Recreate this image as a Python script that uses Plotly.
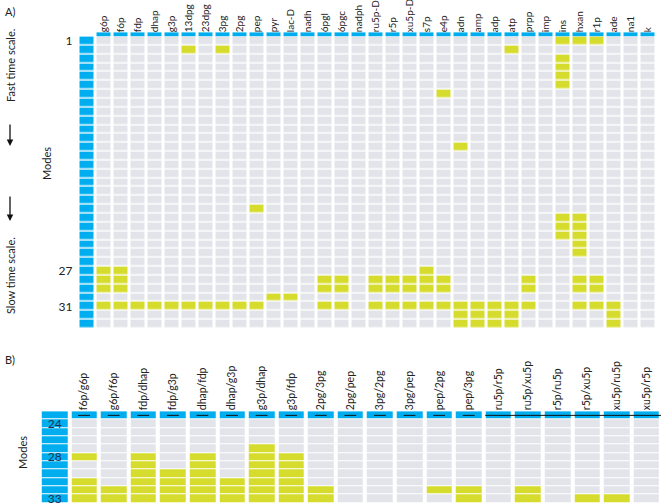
import plotly.graph_objects as go

W, H = 661, 503

# ---------------- data: panel A ----------------
metabolites = ["g6p", "f6p", "fdp", "dhap", "g3p", "13dpg", "23dpg", "3pg", "2pg", "pep",
               "pyr", "lac-D", "nadh", "6pgl", "6pgc", "nadph", "ru5p-D", "r5p", "xu5p-D",
               "s7p", "e4p", "adn", "amp", "adp", "atp", "prpp", "imp", "ins", "hxan",
               "r1p", "ade", "na1", "k"]
modes_a = list(range(1, 34))
mode_ticks_a = [1, 27, 31]

row28 = ["g6p", "f6p", "6pgl", "6pgc", "ru5p-D", "r5p", "xu5p-D", "s7p", "e4p", "prpp", "hxan", "r1p"]
row31 = ["g6p", "f6p", "fdp", "dhap", "g3p", "13dpg", "23dpg", "3pg", "2pg", "pep", "6pgl", "6pgc",
         "ru5p-D", "r5p", "xu5p-D", "s7p", "e4p", "adn", "amp", "adp", "atp", "prpp", "hxan", "r1p", "ade"]
row32 = ["adn", "amp", "adp", "atp", "ade"]
# metabolites participating in each mode (mode 1 .. 33)
active_a = [
    ["ins", "hxan", "r1p"],        # 1
    ["13dpg", "3pg", "atp"],       # 2
    ["ins"], ["ins"], ["ins"], ["ins"],   # 3-6
    ["e4p"],                       # 7
    [], [], [], [], [],            # 8-12
    ["adn"],                       # 13
    [], [], [], [], [], [],        # 14-19
    ["pep"],                       # 20
    ["ins", "hxan"], ["ins", "hxan"], ["ins", "hxan"],  # 21-23
    ["hxan"], ["hxan"],            # 24-25
    [],                            # 26
    ["g6p", "f6p", "s7p"],         # 27
    row28, row28,                  # 28-29
    ["pyr", "lac-D"],              # 30
    row31,                         # 31
    row32, row32,                  # 32-33
]

# ---------------- data: panel B ----------------
ratios = ["f6p/g6p", "g6p/f6p", "fdp/dhap", "fdp/g3p", "dhap/fdp", "dhap/g3p", "g3p/dhap",
          "g3p/fdp", "2pg/3pg", "2pg/pep", "3pg/2pg", "3pg/pep", "pep/2pg", "pep/3pg",
          "ru5p/r5p", "ru5p/xu5p", "r5p/ru5p", "r5p/xu5p", "xu5p/ru5p", "xu5p/r5p"]
modes_b = list(range(24, 34))
mode_ticks_b = [24, 28, 33]
active_b = [
    [28, 31, 32, 33], [32, 33], [28, 29, 30, 31, 32, 33], [30, 31, 32, 33],
    [28, 29, 30, 31, 32, 33], [31, 32, 33], [27, 28, 29, 30, 31, 32, 33],
    [28, 29, 30, 31, 32, 33], [32, 33], [], [], [], [32], [32, 33],
    [], [32, 33], [], [33], [33], [],
]
full_line_b = [False] * 14 + [True] * 6

# ---------------- styling ----------------
GRAY = "#e2e4e9"
YEL = "#d6dc2e"
BLUE = "#00aeef"
TXT = "#222222"
FONT = "Lato"
cscale = [[0, GRAY], [0.33, GRAY], [0.34, YEL], [0.66, YEL], [0.67, BLUE], [1, BLUE]]


def px(x):
    return x / W


def py(y):
    return 1 - y / H


fig = go.Figure()

# ---- panel A matrix (left blue column at x=-1)
xa = list(range(-1, len(metabolites)))
za = []
for m, act in zip(modes_a, active_a):
    za.append([2] + [1 if name in act else 0 for name in metabolites])
fig.add_trace(go.Heatmap(x=xa, y=modes_a, z=za, zmin=0, zmax=2, colorscale=cscale,
                         showscale=False, xgap=3, ygap=1.4, hoverinfo="skip",
                         xaxis="x", yaxis="y"))
# header bar row of panel A (thin)
fig.add_trace(go.Heatmap(x=xa, y=[0.0, 0.45], z=[[None] + [2] * len(metabolites)],
                         zmin=0, zmax=2, colorscale=cscale, showscale=False,
                         xgap=3, ygap=0, hoverinfo="skip", xaxis="x", yaxis="y"))

# ---- panel B matrix
xb = list(range(-1, len(ratios)))
yb = [modes_b[0] - 1] + modes_b
zb, tb = [], []
for m in yb:
    if m == yb[0]:
        zb.append([2] * len(xb))
        tb.append([""] * len(xb))
    else:
        zb.append([2] + [1 if m in act else 0 for act in active_b])
        tb.append([str(m) if m in mode_ticks_b else ""] + [""] * len(ratios))
fig.add_trace(go.Heatmap(x=xb, y=yb, z=zb, text=tb, texttemplate="%{text}",
                         textfont=dict(family=FONT, size=12, color="#1d3350"),
                         zmin=0, zmax=2, colorscale=cscale, showscale=False,
                         xgap=4, ygap=1, hoverinfo="skip", xaxis="x2", yaxis="y2"))

# header lines of panel B
lx, ly = [], []
first_full = full_line_b.index(True)
for i, full in enumerate(full_line_b):
    if not full:
        lx += [i - 0.2, i + 0.2, None]
        ly += [yb[0], yb[0], None]
lx += [first_full - 0.44, len(ratios) - 0.5, None]
ly += [yb[0], yb[0], None]
fig.add_trace(go.Scatter(x=lx, y=ly, mode="lines", line=dict(color="#111111", width=1),
                         hoverinfo="skip", showlegend=False, xaxis="x2", yaxis="y2"))

axis_common = dict(showgrid=False, zeroline=False, showline=False, ticks="", automargin=False)

fig.update_layout(
    width=W, height=H, margin=dict(l=0, r=0, t=0, b=0, autoexpand=False),
    paper_bgcolor="white", plot_bgcolor="white", showlegend=False,
    font=dict(family=FONT, color=TXT),
    xaxis=dict(domain=[px(78.5), px(656.5)], range=[-1.5, len(metabolites) - 0.5],
               side="top", tickmode="array", tickvals=list(range(len(metabolites))),
               ticktext=metabolites, tickangle=-90, tickfont=dict(size=10, color=TXT),
               ticklabelstandoff=-1, anchor="y", **axis_common),
    yaxis=dict(domain=[py(328.65), py(32.2)], range=[33.5, 0.0],
               tickmode="array", tickvals=mode_ticks_a, ticktext=[str(v) for v in mode_ticks_a],
               tickfont=dict(size=12, color=TXT), ticklabelstandoff=5,
               anchor="x", **axis_common),
    xaxis2=dict(domain=[px(39.7), 1.0], range=[-1.5, len(ratios) - 0.5],
                side="top", tickmode="array", tickvals=list(range(len(ratios))),
                ticktext=ratios, tickangle=-90, tickfont=dict(size=10.5, color=TXT),
                anchor="y2", **axis_common),
    yaxis2=dict(domain=[0.0, py(411.2)], range=[33.5, 22.5], showticklabels=False,
                anchor="x2", **axis_common),
)

ann = [
    dict(text="A)", x=px(3), y=py(12), xanchor="left", yanchor="middle", font=dict(size=11)),
    dict(text="B)", x=px(3), y=py(359), xanchor="left", yanchor="middle", font=dict(size=11)),
    dict(text="Modes", x=px(47), y=py(164), textangle=-90, xanchor="center", yanchor="middle",
         font=dict(size=11)),
    dict(text="Fast time scale.", x=px(10), y=py(66), textangle=-90, xanchor="center",
         yanchor="middle", font=dict(size=11)),
    dict(text="Slow time scale.", x=px(10), y=py(276), textangle=-90, xanchor="center",
         yanchor="middle", font=dict(size=11)),
    dict(text="Modes", x=px(22), y=py(453), textangle=-90, xanchor="center", yanchor="middle",
         font=dict(size=11)),
]
for a in ann:
    a.update(xref="paper", yref="paper", showarrow=False)
    fig.add_annotation(**a)

for (y0, y1) in [(123, 146), (195, 221)]:
    fig.add_annotation(x=px(10), y=py(y1), ax=0, ay=-(y1 - y0), xref="paper", yref="paper",
                       axref="pixel", ayref="pixel", text="", showarrow=True,
                       arrowhead=2, arrowsize=1, arrowwidth=1.3, arrowcolor="#111111")

fig.write_html("out.html", config={"displayModeBar": False},
               post_script="document.body.style.margin='0';document.body.style.padding='0';")
